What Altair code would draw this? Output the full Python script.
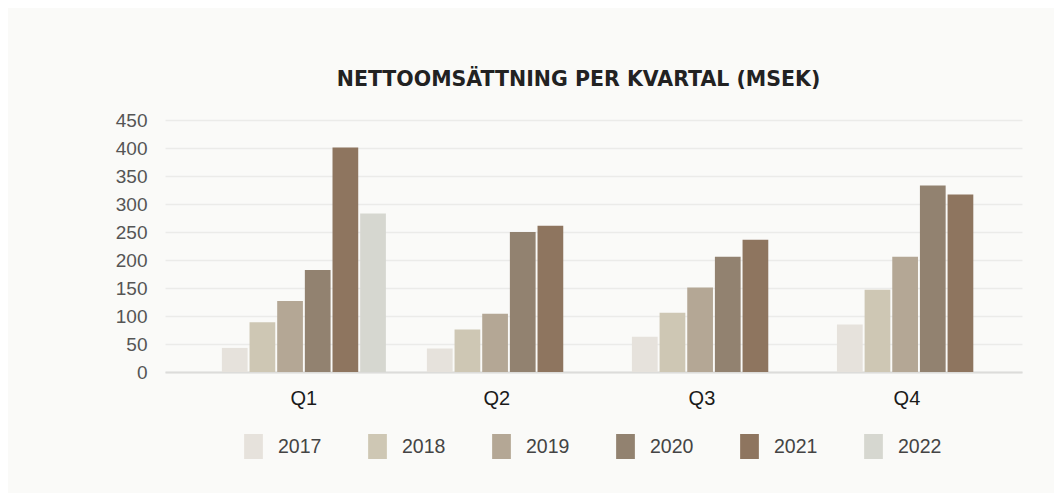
import altair as alt
import pandas as pd

quarters = ["Q1", "Q2", "Q3", "Q4"]
years = ["2017", "2018", "2019", "2020", "2021", "2022"]
v2017 = [43, 42, 63, 85]
v2018 = [89, 76, 106, 147]
v2019 = [127, 104, 151, 206]
v2020 = [182, 250, 206, 333]
v2021 = [401, 261, 236, 317]
v2022 = [283, None, None, None]
colors = ["#E6E2DC", "#CEC7B4", "#B4A795", "#928270", "#8E755F", "#D6D7D0"]
y_ticks = [0, 50, 100, 150, 200, 250, 300, 350, 400, 450]

series = [v2017, v2018, v2019, v2020, v2021, v2022]
rows = []
for yr, vals in zip(years, series):
    for q, v in zip(quarters, vals):
        if v is not None:
            rows.append({"quarter": q, "year": yr, "value": v})
df = pd.DataFrame(rows)

chart = alt.Chart(df).mark_bar().encode(
    x=alt.X(
        "quarter:N",
        sort=quarters,
        scale=alt.Scale(paddingInner=0.2, paddingOuter=0.19, align=0.73),
        axis=alt.Axis(
            title=None, labelAngle=0, labelFontSize=20, labelColor="#1a1a1a",
            labelFont="Liberation Sans", labelPadding=16, ticks=False,
            domainColor="#DCDCDA", domainWidth=2,
            labelOffset={"condition": {"test": "datum.value === 'Q1'", "value": 0}, "value": -12},
        ),
    ),
    xOffset=alt.XOffset("year:N", sort=years, scale=alt.Scale(paddingInner=0.07, paddingOuter=0)),
    y=alt.Y(
        "value:Q",
        scale=alt.Scale(domain=[0, 450], nice=False),
        axis=alt.Axis(
            title=None, values=y_ticks, domain=False, ticks=False,
            labelFontSize=19, labelFont="Liberation Sans", labelColor="#555555",
            labelPadding=18, gridColor="#EBEBE9", gridWidth=1.5,
        ),
    ),
    color=alt.Color(
        "year:N",
        scale=alt.Scale(domain=years, range=colors),
        legend=alt.Legend(
            title=None, orient="none", legendX=76, legendY=314,
            direction="horizontal", columns=6,
            symbolType="M-0.75,-1H0.75V1H-0.75Z", symbolSize=625,
            symbolStrokeWidth=0, symbolOpacity=1,
            labelFontSize=19.5, labelFont="Liberation Sans", labelColor="#444444",
            labelOffset=12, columnPadding=43, padding=0,
        ),
    ),
).properties(
    width=857,
    height=252,
    title=alt.TitleParams(
        "NETTOOMSÄTTNING PER KVARTAL (MSEK)", font="DejaVu Sans", fontSize=20.5,
        fontWeight="bold", color="#222222", anchor="middle", dx=-15, offset=21,
    ),
    autosize=alt.AutoSizeParams(type="none"),
    padding={"left": 157, "top": 112, "right": 32, "bottom": 121},
    background="#FAFAF8",
).configure_view(stroke=None)

chart.save("out.html", embed_options={"renderer": "svg", "actions": False})
